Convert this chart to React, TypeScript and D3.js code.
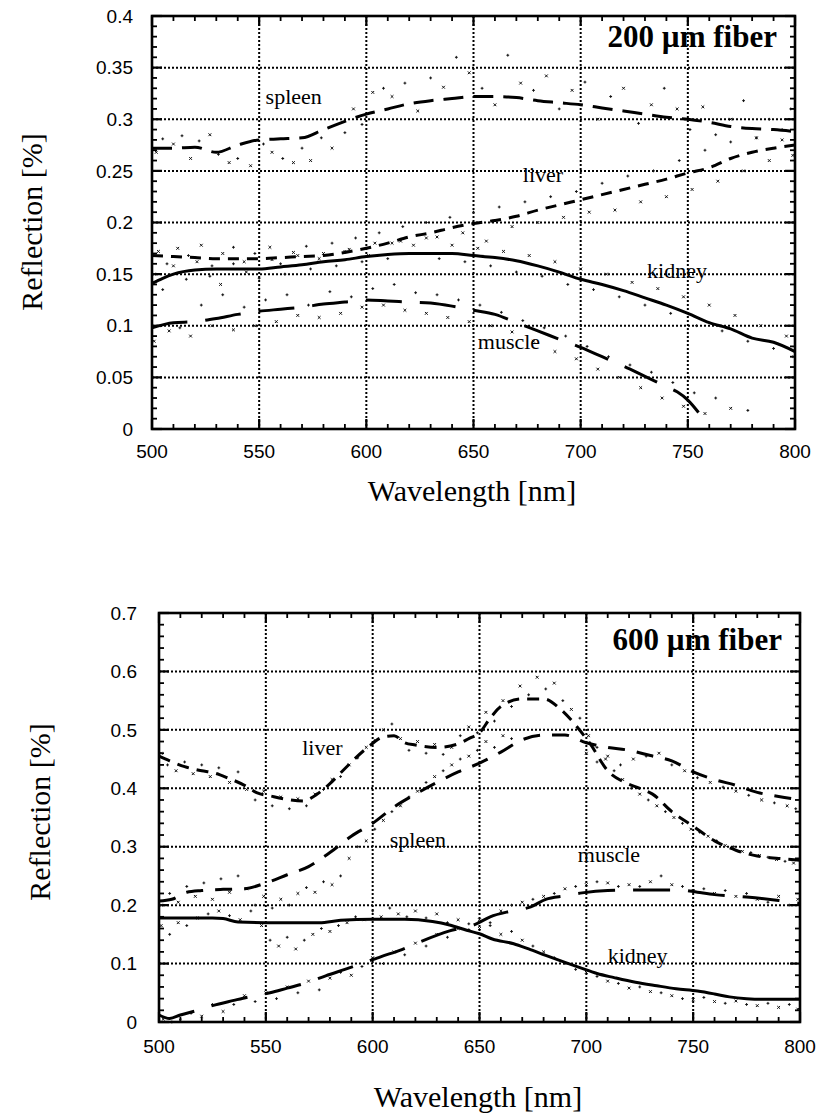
import React from 'react';
import * as d3 from 'd3';

type Pt = [number, number];

// ---------- shared axis data ----------
const wavelengthTicks = [500, 550, 600, 650, 700, 750, 800];
const wavelengthTickLabels = ['500', '550', '600', '650', '700', '750', '800'];

// ---------- top panel (200 µm fiber) ----------
const topYTicks = [0, 0.05, 0.1, 0.15, 0.2, 0.25, 0.3, 0.35, 0.4];
const topYTickLabels = ['0', '0.05', '0.1', '0.15', '0.2', '0.25', '0.3', '0.35', '0.4'];

const topSpleen: Pt[] = [[500,0.272],[510,0.272],[520,0.273],[530,0.268],[540,0.275],[550,0.280],[560,0.281],[570,0.282],[580,0.290],[590,0.298],[600,0.305],[610,0.310],[620,0.315],[630,0.318],[640,0.320],[650,0.322],[660,0.322],[670,0.321],[680,0.318],[690,0.316],[700,0.314],[710,0.311],[720,0.308],[730,0.305],[740,0.302],[750,0.300],[760,0.297],[770,0.293],[780,0.291],[790,0.290],[800,0.288]];
const topLiver: Pt[] = [[500,0.168],[510,0.167],[520,0.166],[530,0.165],[540,0.165],[550,0.165],[560,0.166],[570,0.167],[580,0.168],[590,0.171],[600,0.175],[610,0.180],[620,0.186],[630,0.190],[640,0.195],[650,0.199],[660,0.202],[670,0.206],[680,0.212],[690,0.217],[700,0.222],[710,0.227],[720,0.232],[730,0.237],[740,0.242],[750,0.248],[760,0.253],[770,0.262],[780,0.268],[790,0.272],[800,0.275]];
const topKidney: Pt[] = [[500,0.141],[505,0.146],[510,0.150],[520,0.154],[530,0.155],[540,0.155],[550,0.155],[560,0.157],[570,0.159],[580,0.162],[590,0.164],[600,0.167],[610,0.169],[620,0.170],[630,0.170],[640,0.170],[650,0.168],[660,0.166],[670,0.163],[680,0.158],[690,0.152],[700,0.145],[710,0.140],[720,0.134],[730,0.127],[740,0.120],[750,0.112],[760,0.103],[770,0.097],[780,0.088],[790,0.084],[800,0.075]];
const topMuscle: Pt[] = [[500,0.098],[510,0.103],[520,0.104],[530,0.107],[540,0.111],[550,0.114],[560,0.116],[570,0.118],[580,0.121],[590,0.123],[600,0.125],[610,0.124],[620,0.123],[630,0.122],[640,0.119],[650,0.115],[660,0.111],[670,0.103],[680,0.095],[690,0.087],[700,0.079],[710,0.070],[720,0.061],[730,0.051],[740,0.041],[745,0.036],[750,0.028],[755,0.016]];

const topSpleenPts: Pt[] = [[502,0.268],[505,0.281],[510,0.276],[514,0.284],[518,0.262],[522,0.279],[527,0.285],[531,0.266],[536,0.258],[540,0.262],[546,0.255],[552,0.276],[556,0.268],[561,0.262],[566,0.258],[570,0.272],[574,0.26],[579,0.282],[584,0.272],[590,0.287],[594,0.31],[598,0.295],[603,0.326],[608,0.33],[612,0.322],[618,0.335],[624,0.308],[630,0.34],[636,0.331],[642,0.36],[648,0.345],[654,0.33],[660,0.314],[666,0.362],[672,0.335],[678,0.328],[684,0.342],[690,0.31],[696,0.328],[702,0.336],[708,0.3],[714,0.322],[720,0.33],[727,0.296],[733,0.314],[739,0.33],[745,0.31],[751,0.29],[757,0.312],[763,0.285],[770,0.30],[776,0.318],[782,0.282],[788,0.3],[794,0.28],[798,0.31]];
const topLiverPts: Pt[] = [[503,0.172],[507,0.16],[512,0.175],[517,0.168],[523,0.178],[528,0.158],[533,0.17],[538,0.176],[543,0.162],[548,0.17],[555,0.176],[560,0.16],[566,0.171],[572,0.177],[578,0.165],[584,0.18],[590,0.172],[595,0.185],[601,0.168],[606,0.19],[612,0.18],[617,0.196],[622,0.178],[628,0.2],[633,0.186],[639,0.205],[645,0.19],[650,0.21],[656,0.182],[662,0.215],[668,0.196],[674,0.22],[680,0.2],[686,0.225],[692,0.205],[698,0.23],[704,0.21],[710,0.238],[716,0.212],[722,0.245],[728,0.22],[734,0.25],[740,0.225],[746,0.26],[752,0.232],[758,0.27],[764,0.24],[770,0.278],[776,0.25],[782,0.282],[788,0.26],[794,0.29],[799,0.265]];
const topKidneyPts: Pt[] = [[501,0.15],[505,0.135],[510,0.158],[516,0.145],[521,0.162],[527,0.148],[532,0.14],[538,0.16],[544,0.152],[550,0.146],[556,0.164],[562,0.15],[568,0.168],[574,0.155],[580,0.17],[586,0.158],[592,0.174],[598,0.162],[604,0.18],[610,0.165],[616,0.182],[622,0.17],[628,0.185],[634,0.165],[640,0.178],[646,0.162],[652,0.175],[658,0.158],[664,0.172],[670,0.152],[676,0.168],[682,0.148],[688,0.162],[694,0.14],[700,0.155],[706,0.135],[712,0.15],[718,0.128],[724,0.142],[730,0.12],[736,0.136],[742,0.112],[748,0.128],[754,0.1],[760,0.12],[766,0.095],[772,0.11],[778,0.085],[784,0.1],[790,0.078],[796,0.09],[799,0.07]];
const topMusclePts: Pt[] = [[501,0.085],[504,0.1],[508,0.095],[513,0.098],[518,0.09],[523,0.12],[528,0.1],[533,0.13],[538,0.096],[543,0.118],[548,0.1],[553,0.125],[558,0.104],[563,0.13],[568,0.11],[573,0.12],[578,0.108],[583,0.133],[588,0.112],[593,0.128],[598,0.118],[603,0.136],[608,0.12],[613,0.14],[618,0.115],[623,0.132],[628,0.112],[633,0.13],[638,0.108],[643,0.125],[648,0.104],[653,0.12],[658,0.1],[663,0.113],[668,0.094],[673,0.105],[678,0.085],[683,0.098],[688,0.075],[693,0.09],[698,0.068],[703,0.08],[708,0.058],[713,0.07],[718,0.05],[723,0.062],[728,0.04],[733,0.055],[738,0.03],[743,0.045],[748,0.022],[753,0.035],[758,0.015],[763,0.03],[770,0.02],[778,0.018]];

// ---------- bottom panel (600 µm fiber) ----------
const botYTicks = [0, 0.1, 0.2, 0.3, 0.4, 0.5, 0.6, 0.7];
const botYTickLabels = ['0', '0.1', '0.2', '0.3', '0.4', '0.5', '0.6', '0.7'];

const botLiver: Pt[] = [[500,0.455],[505,0.447],[512,0.437],[520,0.43],[525,0.427],[532,0.418],[540,0.405],[546,0.392],[552,0.387],[560,0.381],[568,0.378],[572,0.385],[580,0.408],[586,0.43],[597,0.468],[605,0.488],[610,0.49],[615,0.478],[620,0.474],[630,0.47],[640,0.476],[645,0.485],[650,0.495],[655,0.52],[660,0.54],[670,0.553],[680,0.553],[688,0.535],[695,0.508],[702,0.475],[710,0.43],[718,0.41],[725,0.40],[731,0.39],[740,0.36],[750,0.335],[760,0.31],[770,0.294],[780,0.284],[790,0.28],[800,0.277]];
const botSpleen: Pt[] = [[500,0.207],[506,0.21],[513,0.222],[520,0.225],[530,0.227],[540,0.228],[550,0.238],[560,0.252],[570,0.266],[580,0.29],[590,0.318],[600,0.34],[610,0.368],[620,0.39],[630,0.41],[640,0.428],[650,0.443],[660,0.462],[670,0.483],[680,0.491],[690,0.491],[700,0.478],[710,0.47],[720,0.465],[730,0.456],[740,0.447],[750,0.428],[760,0.415],[770,0.405],[780,0.393],[790,0.386],[800,0.38]];
const botMuscle: Pt[] = [[500,0.012],[505,0.006],[510,0.012],[518,0.02],[525,0.028],[535,0.037],[542,0.043],[552,0.05],[560,0.058],[569,0.067],[578,0.079],[587,0.09],[595,0.1],[604,0.112],[613,0.123],[622,0.137],[636,0.156],[648,0.167],[655,0.18],[665,0.19],[674,0.197],[681,0.21],[690,0.216],[698,0.221],[710,0.225],[727,0.226],[744,0.226],[752,0.222],[760,0.218],[775,0.214],[790,0.208],[800,0.203]];
const botKidney: Pt[] = [[500,0.178],[510,0.178],[525,0.178],[530,0.177],[537,0.171],[550,0.17],[575,0.17],[585,0.174],[600,0.176],[615,0.176],[628,0.172],[636,0.166],[644,0.157],[650,0.151],[656,0.142],[666,0.134],[673,0.125],[681,0.114],[690,0.102],[697,0.093],[705,0.083],[713,0.076],[723,0.068],[733,0.062],[742,0.057],[752,0.053],[760,0.048],[767,0.043],[775,0.04],[782,0.039],[800,0.039]];

const botLiverPts: Pt[] = [[501,0.46],[504,0.44],[508,0.43],[512,0.445],[516,0.425],[520,0.44],[524,0.42],[528,0.435],[533,0.41],[537,0.428],[541,0.398],[545,0.38],[549,0.395],[553,0.37],[557,0.385],[561,0.365],[565,0.382],[569,0.37],[573,0.39],[577,0.398],[581,0.415],[585,0.42],[589,0.44],[593,0.452],[597,0.47],[601,0.482],[605,0.5],[609,0.51],[613,0.485],[617,0.465],[621,0.48],[625,0.46],[629,0.475],[633,0.458],[637,0.47],[641,0.49],[645,0.505],[649,0.495],[653,0.53],[657,0.515],[661,0.55],[665,0.54],[669,0.575],[673,0.56],[677,0.59],[681,0.57],[685,0.58],[689,0.55],[693,0.535],[697,0.52],[701,0.49],[705,0.47],[709,0.45],[713,0.43],[717,0.415],[721,0.4],[725,0.39],[729,0.38],[733,0.37],[737,0.36],[741,0.35],[745,0.34],[749,0.33],[753,0.325],[757,0.318],[761,0.31],[765,0.302],[769,0.3],[773,0.292],[777,0.29],[781,0.285],[785,0.282],[789,0.278],[793,0.275],[797,0.272]];
const botSpleenPts: Pt[] = [[501,0.2],[505,0.22],[509,0.205],[513,0.232],[517,0.215],[521,0.238],[525,0.21],[529,0.245],[533,0.222],[537,0.25],[541,0.228],[545,0.2],[549,0.215],[553,0.195],[557,0.21],[561,0.2],[565,0.22],[569,0.23],[573,0.222],[577,0.24],[581,0.235],[585,0.25],[589,0.28],[593,0.3],[597,0.31],[601,0.33],[605,0.345],[609,0.36],[613,0.37],[617,0.385],[621,0.395],[625,0.41],[629,0.42],[633,0.43],[637,0.44],[641,0.45],[645,0.455],[649,0.465],[653,0.48],[657,0.47],[661,0.49],[665,0.485],[700,0.46],[705,0.445],[710,0.455],[716,0.44],[722,0.45],[728,0.455],[734,0.46],[740,0.44],[746,0.43],[752,0.418],[758,0.41],[764,0.402],[770,0.395],[776,0.388],[782,0.38],[788,0.375],[794,0.37],[798,0.365]];
const botMusclePts: Pt[] = [[502,0.005],[506,0.0],[510,0.003],[515,0.015],[520,0.01],[525,0.03],[530,0.018],[535,0.03],[540,0.045],[545,0.035],[550,0.05],[555,0.04],[560,0.06],[565,0.05],[570,0.07],[575,0.055],[580,0.075],[585,0.085],[590,0.08],[595,0.095],[600,0.11],[605,0.1],[610,0.12],[615,0.115],[620,0.135],[625,0.13],[630,0.15],[635,0.145],[640,0.16],[645,0.158],[650,0.175],[655,0.17],[660,0.19],[665,0.2],[670,0.205],[675,0.21],[680,0.215],[685,0.22],[690,0.228],[695,0.232],[700,0.235],[705,0.24],[710,0.238],[715,0.232],[720,0.235],[725,0.232],[730,0.24],[735,0.25],[740,0.235],[745,0.232],[750,0.225],[755,0.228],[760,0.22],[765,0.225],[770,0.215],[775,0.22],[780,0.21],[785,0.205],[790,0.215],[795,0.2],[799,0.21]];
const botKidneyPts: Pt[] = [[501,0.165],[505,0.15],[509,0.17],[513,0.165],[518,0.178],[523,0.185],[528,0.19],[533,0.182],[538,0.175],[543,0.19],[548,0.165],[552,0.14],[556,0.13],[560,0.145],[564,0.125],[568,0.14],[572,0.15],[576,0.16],[580,0.155],[584,0.165],[588,0.17],[592,0.18],[596,0.175],[600,0.19],[604,0.18],[608,0.195],[612,0.185],[616,0.18],[620,0.19],[625,0.178],[630,0.185],[635,0.17],[640,0.175],[645,0.168],[650,0.16],[655,0.165],[660,0.15],[665,0.155],[670,0.14],[675,0.13],[680,0.12],[685,0.11],[690,0.1],[695,0.09],[700,0.085],[705,0.078],[710,0.07],[715,0.066],[720,0.058],[725,0.06],[730,0.052],[735,0.05],[740,0.045],[745,0.04],[750,0.038],[755,0.042],[760,0.035],[765,0.032],[770,0.036],[775,0.03],[780,0.028],[785,0.032],[790,0.025],[795,0.03],[799,0.022]];

const SERIF = '"Liberation Serif", "Times New Roman", serif';
const SANS = '"Liberation Sans", Arial, Helvetica, sans-serif';

interface SeriesDef { line: Pt[]; pts: Pt[]; dash: string | null; }
interface LabelDef { text: string; w: number; v: number; }

interface PanelProps {
  left: number; right: number; top: number; bottom: number;
  yMax: number; yTicks: number[]; yTickLabels: string[]; yMinor: number;
  series: SeriesDef[]; labels: LabelDef[];
  fiber: string; fiberBaseline: number;
  yLabelRight: number; xLabelBaseline: number;
  xTitleX: number; xTitleY: number; yTitleX: number; yTitleY: number;
}

function Panel(p: PanelProps) {
  const x = d3.scaleLinear().domain([500, 800]).range([p.left, p.right]);
  const y = d3.scaleLinear().domain([0, p.yMax]).range([p.bottom, p.top]);
  const line = d3.line<Pt>().x(d => x(d[0])).y(d => y(d[1])).curve(d3.curveMonotoneX);
  const xMinor = d3.range(510, 800, 10).filter(v => v % 50 !== 0);
  const nMinorY = Math.round(p.yMax / p.yMinor);
  const yMinorVals = d3.range(1, nMinorY).map(i => i * p.yMinor).filter(v => !p.yTicks.some(t => Math.abs(t - v) < 1e-6));
  const scatterPath = (pts: Pt[]) => pts.map((d, i) => {
    const cx = x(d[0]), cy = y(d[1]), s = 1.4;
    return i % 2 === 0
      ? `M${cx - s},${cy - s}L${cx + s},${cy + s}M${cx - s},${cy + s}L${cx + s},${cy - s}`
      : `M${cx - s},${cy}L${cx + s},${cy}M${cx},${cy - s}L${cx},${cy + s}`;
  }).join('');
  const grid = { stroke: '#000', strokeWidth: 2, strokeDasharray: '2 2' };
  return (
    <g>
      {wavelengthTicks.slice(1, -1).map(t => (
        <line key={'gx' + t} x1={x(t)} x2={x(t)} y1={p.top} y2={p.bottom} {...grid} />
      ))}
      {p.yTicks.slice(1, -1).map(t => (
        <line key={'gy' + t} x1={p.left} x2={p.right} y1={y(t)} y2={y(t)} {...grid} />
      ))}
      {xMinor.map(t => (
        <g key={'mx' + t} stroke="#000" strokeWidth={1.8}>
          <line x1={x(t)} x2={x(t)} y1={p.bottom} y2={p.bottom - 5} />
          <line x1={x(t)} x2={x(t)} y1={p.top} y2={p.top + 5} />
        </g>
      ))}
      {yMinorVals.map(t => (
        <g key={'my' + t} stroke="#000" strokeWidth={1.8}>
          <line x1={p.left} x2={p.left + 5} y1={y(t)} y2={y(t)} />
          <line x1={p.right} x2={p.right - 5} y1={y(t)} y2={y(t)} />
        </g>
      ))}
      {wavelengthTicks.map(t => (
        <g key={'Mx' + t} stroke="#000" strokeWidth={2.2}>
          <line x1={x(t)} x2={x(t)} y1={p.bottom} y2={p.bottom - 10} />
          <line x1={x(t)} x2={x(t)} y1={p.top} y2={p.top + 10} />
        </g>
      ))}
      {p.yTicks.map(t => (
        <g key={'My' + t} stroke="#000" strokeWidth={2.2}>
          <line x1={p.left} x2={p.left + 10} y1={y(t)} y2={y(t)} />
          <line x1={p.right} x2={p.right - 10} y1={y(t)} y2={y(t)} />
        </g>
      ))}
      {p.series.map((s, i) => (
        <path key={'sc' + i} d={scatterPath(s.pts)} stroke="#111" strokeWidth={1} fill="none" />
      ))}
      {p.series.map((s, i) => (
        <path key={'ln' + i} d={line(s.line) || ''} stroke="#000" strokeWidth={3} fill="none"
          strokeDasharray={s.dash || undefined} strokeLinecap="butt" />
      ))}
      <rect x={p.left} y={p.top} width={p.right - p.left} height={p.bottom - p.top} fill="none" stroke="#000" strokeWidth={2.6} />
      {p.labels.map(l => (
        <text key={l.text} x={x(l.w)} y={y(l.v)} fontFamily={SERIF} fontSize={22} fill="#000">{l.text}</text>
      ))}
      <text x={p.right - 18} y={p.fiberBaseline} textAnchor="end" fontFamily={SERIF} fontWeight="bold" fontSize={31} fill="#000">{p.fiber}</text>
      {p.yTicks.map((t, i) => (
        <text key={'yl' + t} x={p.yLabelRight} y={y(t)} dy="0.35em" textAnchor="end" fontFamily={SANS} fontSize={19} fill="#000">{p.yTickLabels[i]}</text>
      ))}
      {wavelengthTicks.map((t, i) => (
        <text key={'xl' + t} x={x(t)} y={p.xLabelBaseline} textAnchor="middle" fontFamily={SANS} fontSize={19} fill="#000">{wavelengthTickLabels[i]}</text>
      ))}
      <text x={p.xTitleX} y={p.xTitleY} textAnchor="middle" fontFamily={SERIF} fontSize={30} fill="#000">Wavelength [nm]</text>
      <text transform={`translate(${p.yTitleX},${p.yTitleY}) rotate(-90)`} textAnchor="middle" fontFamily={SERIF} fontSize={30} fill="#000">Reflection [%]</text>
    </g>
  );
}

const topLabels: LabelDef[] = [
  { text: 'spleen', w: 553, v: 0.315 },
  { text: 'liver', w: 673, v: 0.239 },
  { text: 'kidney', w: 731, v: 0.146 },
  { text: 'muscle', w: 652, v: 0.077 },
];
const botLabels: LabelDef[] = [
  { text: 'liver', w: 567, v: 0.457 },
  { text: 'spleen', w: 608, v: 0.300 },
  { text: 'muscle', w: 696, v: 0.274 },
  { text: 'kidney', w: 710, v: 0.101 },
];

export default function App() {
  return (
    <svg width={819} height={1118} viewBox="0 0 819 1118"
      style={{ position: 'absolute', left: 0, top: 0, background: '#fff' }}>
      <rect x={0} y={0} width={819} height={1118} fill="#fff" />
      <Panel
        left={152} right={795} top={16} bottom={429}
        yMax={0.4} yTicks={topYTicks} yTickLabels={topYTickLabels} yMinor={0.01}
        series={[
          { line: topSpleen, pts: topSpleenPts, dash: '20 10' },
          { line: topLiver, pts: topLiverPts, dash: '11 8' },
          { line: topKidney, pts: topKidneyPts, dash: null },
          { line: topMuscle, pts: topMusclePts, dash: '36 18' },
        ]}
        labels={topLabels}
        fiber="200 µm fiber" fiberBaseline={47}
        yLabelRight={133} xLabelBaseline={458}
        xTitleX={472} xTitleY={501} yTitleX={42} yTitleY={222}
      />
      <Panel
        left={159} right={800} top={613} bottom={1022}
        yMax={0.7} yTicks={botYTicks} yTickLabels={botYTickLabels} yMinor={0.02}
        series={[
          { line: botLiver, pts: botLiverPts, dash: '12 8' },
          { line: botSpleen, pts: botSpleenPts, dash: '17 12' },
          { line: botMuscle, pts: botMusclePts, dash: '37 18' },
          { line: botKidney, pts: botKidneyPts, dash: null },
        ]}
        labels={botLabels}
        fiber="600 µm fiber" fiberBaseline={650}
        yLabelRight={137} xLabelBaseline={1053}
        xTitleX={478} xTitleY={1107} yTitleX={50} yTitleY={812}
      />
    </svg>
  );
}
